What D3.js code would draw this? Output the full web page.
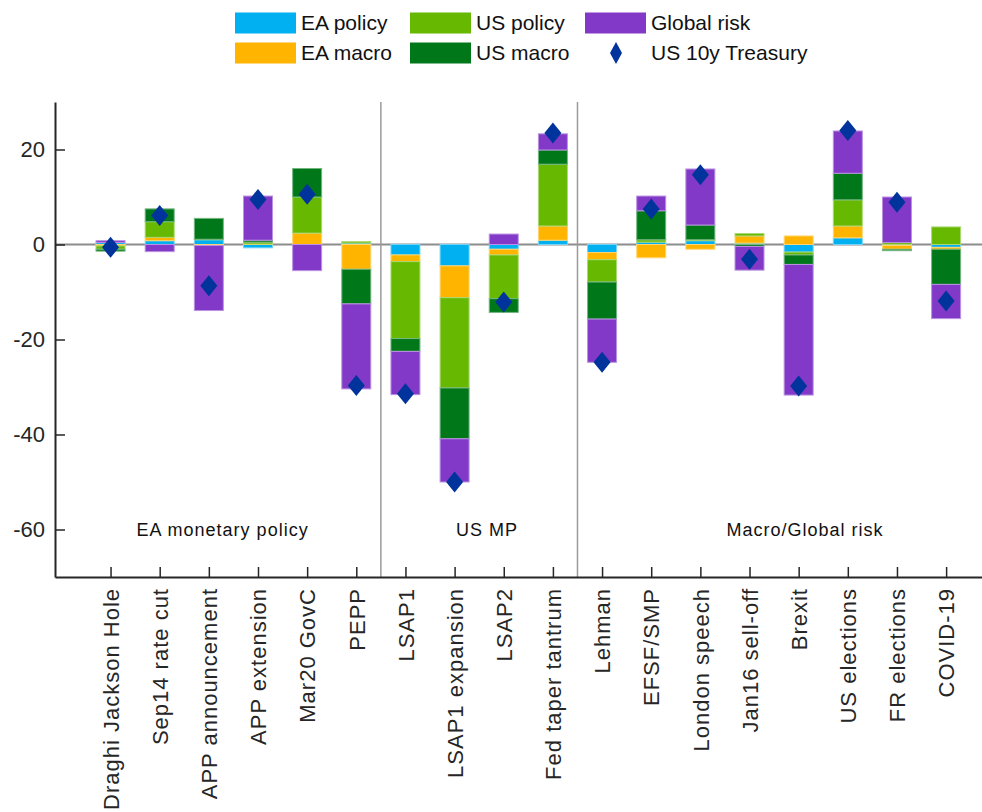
<!DOCTYPE html>
<html>
<head>
<meta charset="utf-8">
<script src="https://cdn.jsdelivr.net/npm/d3@7"></script>
<style>
  html, body { margin: 0; padding: 0; background: #ffffff; }
  svg { display: block; font-family: "Liberation Sans", Arial, Helvetica, sans-serif; }
</style>
</head>
<body>
<svg id="chart" width="982" height="812"></svg>
<script>
// ---------------- data ----------------
const categories = ["Draghi Jackson Hole", "Sep14 rate cut", "APP announcement", "APP extension",
  "Mar20 GovC", "PEPP", "LSAP1", "LSAP1 expansion", "LSAP2", "Fed taper tantrum",
  "Lehman", "EFSF/SMP", "London speech", "Jan16 sell-off", "Brexit", "US elections",
  "FR elections", "COVID-19"];
const seriesNames = ["EA policy", "EA macro", "US policy", "US macro", "Global risk"];
const eaPolicy   = [0.4, 0.8, 1.0, -0.7, 0.0, 0.3, -2.2, -4.5, -1.0, 0.9, -1.7, 0.5, 0.8, 0.3, -1.6, 1.4, -0.2, -0.6];
const eaMacro    = [-0.3, 0.7, -0.2, 0.1, 2.4, -5.2, -1.4, -6.7, -1.2, 3.0, -1.5, -2.8, -1.0, 1.5, 1.8, 2.5, -0.8, -0.4];
const usPolicy   = [-0.7, 3.3, 0.1, 0.4, 7.6, 0.3, -16.2, -19.0, -9.2, 13.0, -4.7, 0.5, 0.2, 0.5, -0.6, 5.5, 0.4, 3.7];
const usMacro    = [-0.4, 2.7, 4.4, 0.4, 6.0, -7.3, -2.7, -10.7, -2.9, 3.0, -7.8, 6.1, 3.1, -0.4, -2.0, 5.6, -0.3, -7.4];
const globalRisk = [0.4, -1.5, -13.7, 9.3, -5.5, -17.9, -9.1, -9.1, 2.2, 3.4, -9.1, 3.1, 11.8, -5.0, -27.5, 8.9, 9.6, -7.2];
const us10y      = [-0.6, 6.1, -8.7, 9.5, 10.6, -29.7, -31.4, -50.0, -12.1, 23.5, -24.8, 7.5, 14.7, -3.1, -29.8, 24.0, 8.9, -11.9];
const yTicks = [20, 0, -20, -40, -60];
const yTickLabels = ["20", "0", "-20", "-40", "-60"];
const groupLabels = ["EA monetary policy", "US MP", "Macro/Global risk"];
const groupLabelPos = [3.28, 8.66, 15.13];
const groupSeparators = [6.5, 10.5];
const diamondLabel = "US 10y Treasury";

const colors = ["#00b0f0", "#ffb400", "#66b800", "#00781a", "#8239c8"];
const diamondColor = "#00339b";

// ---------------- layout ----------------
const svg = d3.select("#chart");
const mLeft = 55, mRight = 982, mTop = 102, mBottom = 577;

const x = d3.scaleLinear().domain([-0.13, 18.73]).range([mLeft, mRight]);
const y = d3.scaleLinear().domain([-70, 30]).range([mBottom, mTop]);
const barW = x(0.59) - x(0);

// rows for stacking
const rows = categories.map((c, i) => ({
  idx: i + 1,
  "EA policy": eaPolicy[i],
  "EA macro": eaMacro[i],
  "US policy": usPolicy[i],
  "US macro": usMacro[i],
  "Global risk": globalRisk[i]
}));
const stacked = d3.stack().keys(seriesNames).offset(d3.stackOffsetDiverging)(rows);

// zero line
svg.append("line")
  .attr("x1", mLeft).attr("x2", mRight)
  .attr("y1", y(0)).attr("y2", y(0))
  .attr("stroke", "#8c8c8c").attr("stroke-width", 2);

// group separators
svg.selectAll("line.sep").data(groupSeparators).enter().append("line")
  .attr("class", "sep")
  .attr("x1", d => x(d)).attr("x2", d => x(d))
  .attr("y1", mTop).attr("y2", mBottom)
  .attr("stroke", "#9a9a9a").attr("stroke-width", 1.5);

// bars
stacked.forEach((layer, si) => {
  const col = colors[si];
  const edge = d3.interpolateRgb(col, "#ffffff")(0.45);
  svg.append("g").selectAll("rect").data(layer).enter().append("rect")
    .attr("x", d => x(d.data.idx) - barW / 2)
    .attr("width", barW)
    .attr("y", d => y(Math.max(d[0], d[1])))
    .attr("height", d => Math.abs(y(d[0]) - y(d[1])))
    .attr("fill", col)
    .attr("stroke", edge)
    .attr("stroke-width", 1);
});

// diamonds
const dW = 8.5, dH = 10.5;
const diamondPath = (w, h) => `M0,${-h}L${w},0L0,${h}L${-w},0Z`;
svg.append("g").selectAll("path").data(us10y).enter().append("path")
  .attr("d", diamondPath(dW, dH))
  .attr("transform", (d, i) => `translate(${x(i + 1)},${y(d)})`)
  .attr("fill", diamondColor);

// axes
const yAxis = d3.axisLeft(y).tickValues(yTicks).tickSize(-10).tickSizeOuter(0).tickPadding(10)
  .tickFormat((d, i) => yTickLabels[i]);
const gy = svg.append("g").attr("transform", `translate(${mLeft},0)`).call(yAxis);
gy.select(".domain").attr("stroke", "#262626").attr("stroke-width", 2);
gy.selectAll(".tick line").attr("stroke", "#262626").attr("stroke-width", 1.5);
gy.selectAll(".tick text").attr("font-size", 22).attr("fill", "#262626")
  .attr("font-family", "Liberation Sans, Arial, sans-serif");

const xAxis = d3.axisBottom(x).tickValues(d3.range(1, categories.length + 1)).tickSize(-10).tickSizeOuter(0)
  .tickFormat(d => categories[d - 1]);
const gx = svg.append("g").attr("transform", `translate(0,${mBottom})`).call(xAxis);
gx.select(".domain").attr("stroke", "#262626").attr("stroke-width", 2);
gx.selectAll(".tick line").attr("stroke", "#262626").attr("stroke-width", 1.5);
gx.selectAll(".tick text")
  .attr("font-size", 22).attr("fill", "#262626")
  .attr("font-family", "Liberation Sans, Arial, sans-serif")
  .attr("letter-spacing", 1)
  .attr("text-anchor", "end")
  .attr("dy", "0.35em")
  .attr("y", 0)
  .attr("x", 0)
  .attr("transform", "translate(0,11) rotate(-90)");

// group labels
svg.selectAll("text.grp").data(groupLabels).enter().append("text")
  .attr("class", "grp")
  .attr("x", (d, i) => x(groupLabelPos[i]))
  .attr("y", y(-60))
  .attr("dy", "0.35em")
  .attr("text-anchor", "middle")
  .attr("font-size", 18)
  .attr("letter-spacing", 1)
  .attr("fill", "#111")
  .text(d => d);

// legend
const legendItems = [
  { type: "rect", name: "EA policy", color: colors[0], col: 0, row: 0 },
  { type: "rect", name: "US policy", color: colors[2], col: 1, row: 0 },
  { type: "rect", name: "Global risk", color: colors[4], col: 2, row: 0 },
  { type: "rect", name: "EA macro", color: colors[1], col: 0, row: 1 },
  { type: "rect", name: "US macro", color: colors[3], col: 1, row: 1 },
  { type: "diamond", name: diamondLabel, color: diamondColor, col: 2, row: 1 }
];
const legX = [235, 410, 585], legY = [23, 53];
const lg = svg.append("g");
legendItems.forEach(it => {
  const x0 = legX[it.col], yc = legY[it.row];
  if (it.type === "rect") {
    lg.append("rect").attr("x", x0).attr("y", yc - 10.5).attr("width", 61).attr("height", 21)
      .attr("fill", it.color);
  } else {
    lg.append("path").attr("d", diamondPath(6, 11))
      .attr("transform", `translate(${x0 + 31},${yc})`).attr("fill", it.color);
  }
  lg.append("text").attr("x", x0 + 66).attr("y", yc).attr("dy", "0.35em")
    .attr("font-size", 21).attr("fill", "#111").text(it.name);
});
</script>
</body>
</html>
